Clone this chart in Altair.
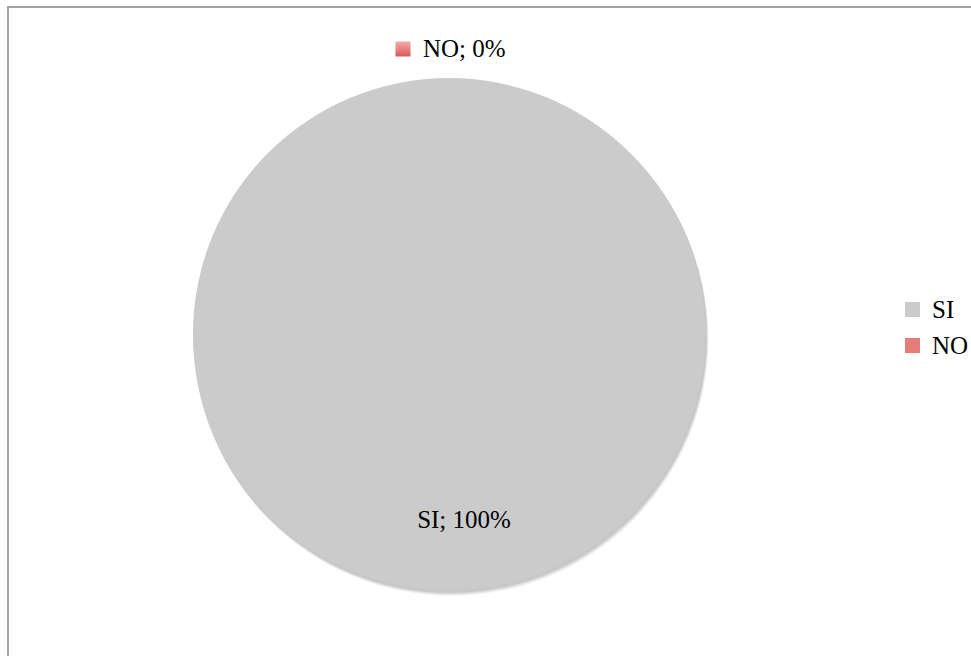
import altair as alt
import pandas as pd

categories = ["SI", "NO"]
values = [100, 0]
label_text = ["SI; 100%", "NO; 0%"]
colors = ["#cbcbcb", "#e47c7a"]

df = pd.DataFrame({"cat": categories, "val": values, "label": label_text, "order": [0, 1]})

CX, CY, R = 449, 334, 256
FONT = "Liberation Serif"
FS = 25

color_scale = alt.Scale(domain=categories, range=colors)

base = alt.Chart(df).encode(
    theta=alt.Theta("val:Q", stack=True),
    order=alt.Order("order:Q"),
)

shadows = []
for off, op in [(5, 0.04), (4, 0.05), (3, 0.06), (2, 0.08)]:
    shadows.append(
        base.mark_arc(color="#000000", opacity=op).encode(
            x=alt.value(CX + off / 2), y=alt.value(CY + off), radius=alt.value(R + 1)
        )
    )

pie = base.mark_arc().encode(
    x=alt.value(CX),
    y=alt.value(CY),
    radius=alt.value(R),
    color=alt.Color(
        "cat:N",
        scale=color_scale,
        sort=categories,
        legend=alt.Legend(
            orient="none",
            legendX=900,
            legendY=297,
            title=None,
            symbolType="square",
            symbolSize=225,
            symbolStrokeWidth=0,
            labelFont=FONT,
            labelFontSize=FS,
            labelColor="#000000",
            labelOffset=7,
            rowPadding=10,
            padding=0,
        ),
    ),
)

lab = (
    alt.Chart(df)
    .transform_joinaggregate(total="sum(val)")
    .transform_window(cum="sum(val)", sort=[alt.SortField("order", order="ascending")])
    .transform_calculate(
        mid="(datum.cum - datum.val / 2) / datum.total * 2 * PI",
        r="datum.cat == 'SI' ? 186 : 285",
    )
    .transform_calculate(
        px=f"{CX} + datum.r * sin(datum.mid)",
        py=f"{CY} - datum.r * cos(datum.mid)",
    )
    .encode(x=alt.X("px:Q", scale=None), y=alt.Y("py:Q", scale=None))
)

si_label = lab.transform_filter("datum.cat == 'SI'").mark_text(
    font=FONT, fontSize=FS, color="#000000", align="center", baseline="middle", dx=15
).encode(text="label:N")

no_label = lab.transform_filter("datum.cat == 'NO'").mark_text(
    font=FONT, fontSize=FS, color="#000000", align="left", baseline="middle", dx=-26
).encode(text="label:N")

red_grad = alt.Gradient(
    gradient="linear", x1=0, y1=0, x2=0, y2=1,
    stops=[alt.GradientStop(color="#f7aaa9", offset=0), alt.GradientStop(color="#d9585a", offset=1)],
)
no_square = lab.transform_filter("datum.cat == 'NO'").mark_square(
    size=225, filled=True, color=red_grad, opacity=1
).encode(xOffset=alt.value(-46))

one = pd.DataFrame({"a": [0]})
border_top = alt.Chart(one).mark_rule(color="#a3a3a3", strokeWidth=2).encode(
    x=alt.value(7), x2=alt.value(971), y=alt.value(7)
)
border_left = alt.Chart(one).mark_rule(color="#a3a3a3", strokeWidth=2).encode(
    x=alt.value(8), y=alt.value(6), y2=alt.value(656)
)

chart = (
    alt.layer(*shadows, pie, si_label, no_label, no_square, border_top, border_left)
    .properties(width=971, height=656, autosize=alt.AutoSizeParams(type="none"), padding=0,
                background="#ffffff")
    .configure_view(stroke=None)
)

chart.save("out.html", embed_options={"renderer": "svg", "actions": False})
